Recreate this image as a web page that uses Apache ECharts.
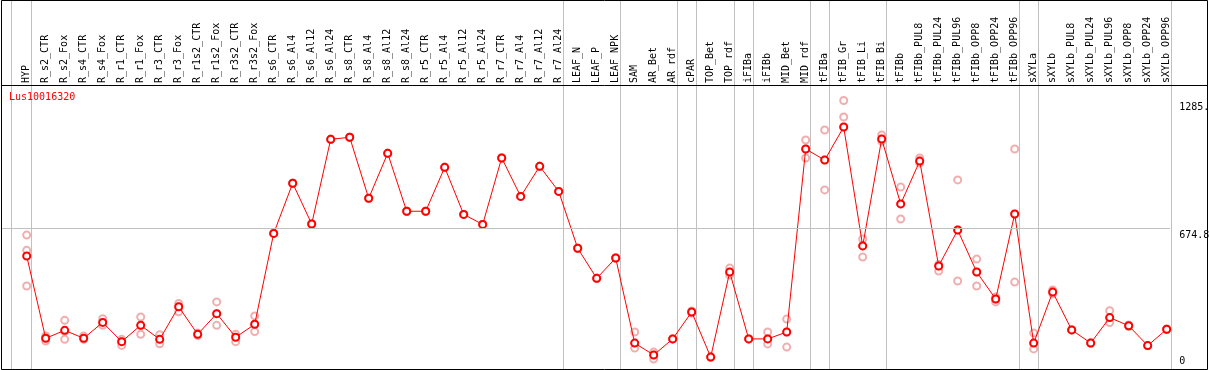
<!DOCTYPE html>
<html>
<head>
<meta charset="utf-8">
<script src="https://cdn.jsdelivr.net/npm/echarts@6/dist/echarts.min.js"></script>
<style>html,body{margin:0;padding:0;background:#fff;}#c{width:1209px;height:370px;}</style>
</head>
<body>
<div id="c"></div>
<script>
const categories = ['HYP','R_s2_CTR','R_s2_Fox','R_s4_CTR','R_s4_Fox','R_r1_CTR','R_r1_Fox','R_r3_CTR','R_r3_Fox','R_r1s2_CTR','R_r1s2_Fox','R_r3s2_CTR','R_r3s2_Fox','R_s6_CTR','R_s6_Al4','R_s6_Al12','R_s6_Al24','R_s8_CTR','R_s8_Al4','R_s8_Al12','R_s8_Al24','R_r5_CTR','R_r5_Al4','R_r5_Al12','R_r5_Al24','R_r7_CTR','R_r7_Al4','R_r7_Al12','R_r7_Al24','LEAF_N','LEAF_P','LEAF_NPK','SAM','AR_Bet','AR_rdf','cPAR','TOP_Bet','TOP_rdf','iFIBa','iFIBb','MID_Bet','MID_rdf','tFIBa','tFIB_Gr','tFIB_Li','tFIB_Bi','tFIBb','tFIBb_PUL8','tFIBb_PUL24','tFIBb_PUL96','tFIBb_OPP8','tFIBb_OPP24','tFIBb_OPP96','sXYLa','sXYLb','sXYLb_PUL8','sXYLb_PUL24','sXYLb_PUL96','sXYLb_OPP8','sXYLb_OPP24','sXYLb_OPP96'];

const meanValues = [541,147,185,147,223,131,209,142,298,166,265,152,214,649,889,694,1099,1109,817,1032,755,755,965,740,692,1010,826,970,850,578,434,531,124,67,144,273,57,464,144,144,177,1053,1000,1158,589,1101,790,995,493,665,464,335,742,124,368,187,124,246,207,112,190];

const rep1 = [641,158,233,158,241,142,249,164,314,172,321,166,254,649,889,694,1099,1109,817,1032,755,755,965,740,692,1010,826,970,850,578,434,531,177,81,144,278,57,483,144,177,239,1096,1144,1285,622,1120,871,1010,469,905,526,321,1053,172,378,187,124,279,211,112,190];
const rep2 = [568,147,180,147,223,131,209,142,298,166,265,152,214,649,889,694,1099,1109,817,1032,755,755,965,740,692,1010,826,970,850,578,434,531,124,67,144,273,57,464,144,144,177,1053,1000,1206,589,1101,790,995,493,665,464,335,742,124,368,187,124,246,207,112,190];
const rep3 = [397,134,142,142,209,113,166,121,274,160,209,131,179,649,889,694,1099,1109,817,1032,755,755,965,740,692,1010,826,970,850,578,434,531,100,48,144,268,57,450,144,120,105,1010,857,1158,536,1090,718,985,500,421,397,345,416,96,360,187,124,222,203,112,190];

// separator positions in category units (boundary lines between groups)
const separatorPos = [-0.84,0.21,28.21,31.21,34.21,35.21,37.21,38.21,41.21,42.21,45.21,52.21,53.21,60.21];
const yMax = 1349.6;
const yMid = 674.8;
const yTopLabel = 1285;
const title = 'Lus10016320';

const FONT = 'DejaVu Sans Mono';
const chart = echarts.init(document.getElementById('c'), null, {renderer: 'canvas'});

const paleData = [];
[rep1, rep2, rep3].forEach(r => r.forEach((v, i) => { if (v != null) paleData.push([i, v]); }));

const yBase = {type: 'value', min: 0, max: yMax, position: 'right', gridIndex: 0,
  axisLine: {show: false}, axisTick: {show: false}, splitLine: {show: false}};

chart.setOption({
  animation: false,
  backgroundColor: '#fff',
  title: {text: title, left: 9, top: 92, padding: 0,
    textStyle: {color: '#ff0000', fontSize: 10, fontWeight: 'normal', fontFamily: FONT}},
  grid: {left: 17.2, width: 1159, top: 87, height: 282, containLabel: false, outerBoundsMode: 'none'},
  xAxis: [
    {type: 'category', data: categories, position: 'top', boundaryGap: true,
     axisLine: {show: false}, axisTick: {show: false}, splitLine: {show: false},
     axisLabel: {rotate: 90, interval: 0, margin: 4, fontSize: 10, fontFamily: FONT, color: '#000'}}
  ],
  yAxis: [
    Object.assign({}, yBase, {interval: yMid,
      axisLabel: {margin: 3, align: 'left', verticalAlign: 'top', padding: [2,0,0,0], fontSize: 10, fontFamily: FONT, color: '#000',
        formatter: v => Math.abs(v - yMid) < 0.01 ? String(yMid) : ''}}),
    Object.assign({}, yBase, {interval: yTopLabel,
      axisLabel: {margin: 3, align: 'left', verticalAlign: 'top', padding: [2,0,0,0], fontSize: 10, fontFamily: FONT, color: '#000',
        formatter: v => Math.abs(v - yTopLabel) < 0.01 ? String(yTopLabel) + '.' : ''}}),
    Object.assign({}, yBase, {interval: yMid,
      axisLabel: {margin: 3, align: 'left', verticalAlign: 'bottom', padding: [0,0,3,0], fontSize: 10, fontFamily: FONT, color: '#000',
        formatter: v => v === 0 ? '0' : ''}})
  ],
  series: [
    {type: 'scatter', xAxisIndex: 0, yAxisIndex: 0, z: 3, data: paleData,
     symbol: 'emptyCircle', symbolSize: 7,
     itemStyle: {color: '#ee9a9a', borderWidth: 1.2}},
    {type: 'line', xAxisIndex: 0, yAxisIndex: 0, z: 4, data: meanValues,
     symbol: 'emptyCircle', symbolSize: 7, showAllSymbol: true,
     lineStyle: {color: '#ff0000', width: 1},
     itemStyle: {color: '#ff0000', borderWidth: 1.5},
     markLine: {silent: true, symbol: 'none', label: {show: false},
       lineStyle: {color: '#c0c0c0', width: 1, type: 'solid'},
       data: [[{x: 1, yAxis: yMid}, {x: 1170, yAxis: yMid}]]}}
  ]
});

// group separators placed through the category axis scale
const c0 = chart.convertToPixel({xAxisIndex: 0}, 0);
const c1 = chart.convertToPixel({xAxisIndex: 0}, 1);
const unit = c1 - c0;
const bottomY = chart.convertToPixel({yAxisIndex: 0}, 0);
const g = [];
separatorPos.forEach((v) => {
  const x = Math.round(c0 + v * unit) + 0.5;
  g.push({type: 'line', z: 1, silent: true,
    shape: {x1: x, y1: 0, x2: x, y2: bottomY},
    style: {stroke: '#c0c0c0', lineWidth: 1}});
});
g.push({type: 'rect', z: 10, silent: true, shape: {x: 1.5, y: 0.5, width: 1206, height: 369}, style: {fill: 'none', stroke: '#000', lineWidth: 1}});
g.push({type: 'line', z: 10, silent: true, shape: {x1: 1, y1: 85.5, x2: 1208, y2: 85.5}, style: {stroke: '#000', lineWidth: 1}});
chart.setOption({graphic: g});
</script>
</body>
</html>
